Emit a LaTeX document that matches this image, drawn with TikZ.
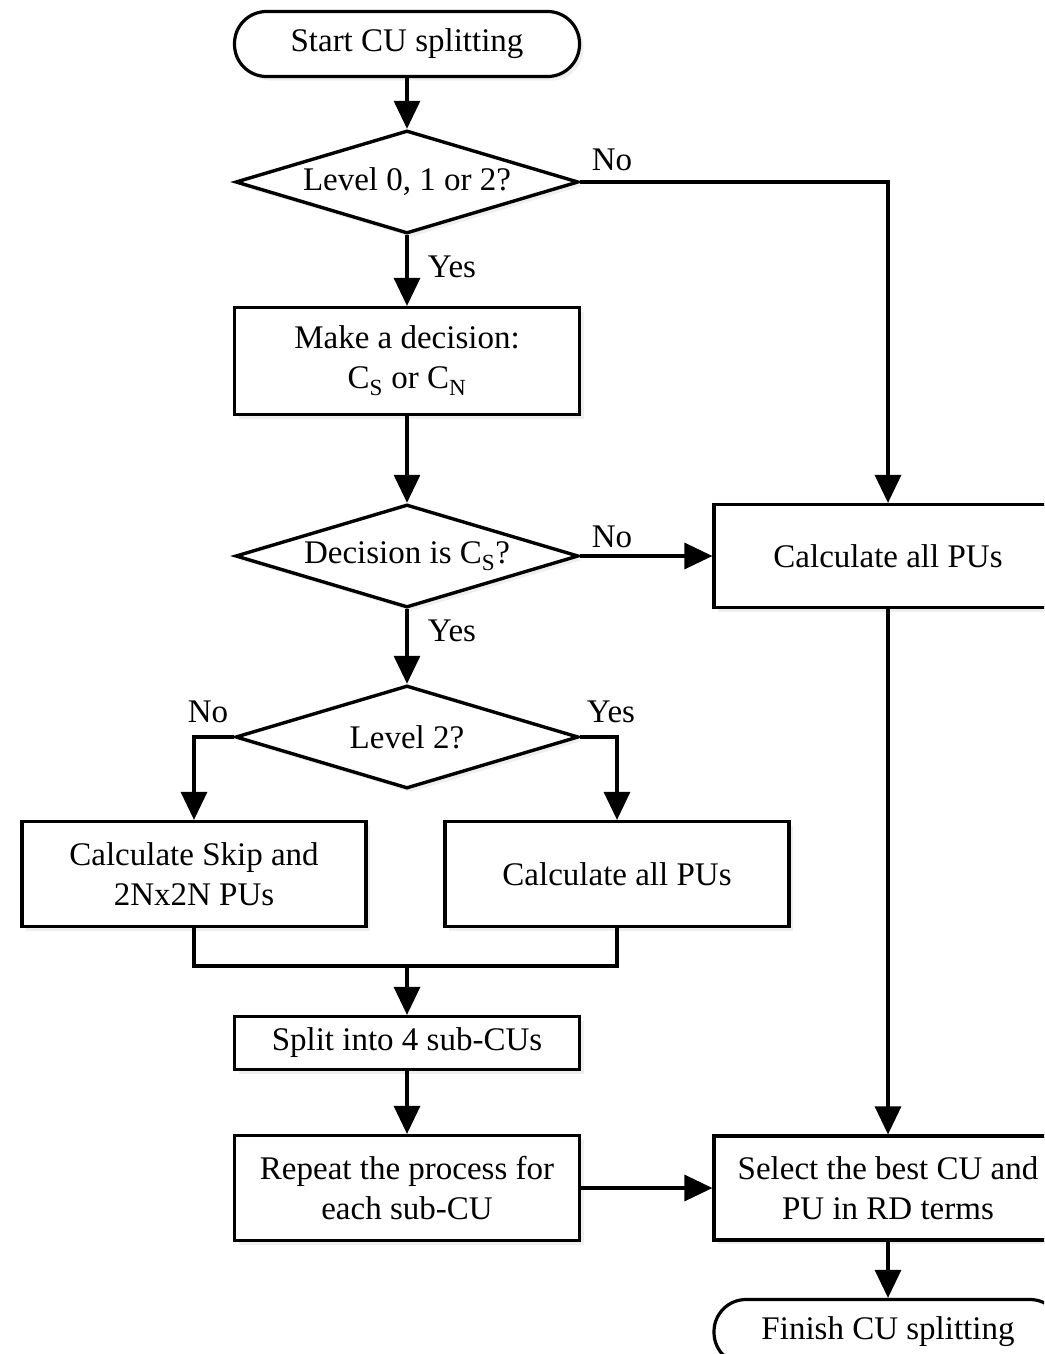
\documentclass[tikz,border=0pt]{standalone}
\usepackage{fontspec}
\setmainfont{Liberation Serif}
\usetikzlibrary{arrows.meta,shapes.geometric,shadows}
\begin{document}
\begin{tikzpicture}[x=1pt,y=-1pt,
  line width=3.2pt,
  every node/.style={font=\fontsize{33}{40}\selectfont, align=center},
  shadowed/.style={drop shadow={opacity=0.12, shadow xshift=4pt, shadow yshift=-4pt}},
  proc/.style={draw, line width=3.2pt, fill=white, rectangle, inner sep=0pt, shadowed},
  decide/.style={draw, line width=3.4pt, fill=white, diamond, aspect=3.3, inner sep=0pt, minimum width=343pt, minimum height=103pt, shadowed},
  termbox/.style={draw, line width=3.2pt, fill=white, rounded corners=32pt, inner sep=0pt, minimum height=65pt, shadowed},
  lbl/.style={inner sep=0pt},
  conn/.style={line width=3.2pt},
  arr/.style={conn, -{Triangle[length=28pt,width=26pt]}}
]
\path[use as bounding box, clip] (0,0) rectangle (1044,1354);
\fill[white] (0,0) rectangle (1044,1354);

% nodes
\node[termbox, minimum width=345pt] (start) at (407,44) {Start CU splitting};
\node[decide] (d1) at (407,182) {Level 0, 1 or 2?};
\node[proc, minimum width=345pt, minimum height=107pt] (make) at (407,361) {Make a decision:\\C\textsubscript{S} or C\textsubscript{N}};
\node[decide] (d2) at (407,556) {Decision is C\textsubscript{S}?};
\node[proc, minimum width=348pt, minimum height=103pt] (all1) at (888,556) {Calculate all PUs};
\node[decide] (d3) at (407,737) {Level 2?};
\node[proc, minimum width=344pt, minimum height=105pt] (skip) at (194,874) {Calculate Skip and\\2Nx2N PUs};
\node[proc, minimum width=344pt, minimum height=105pt] (all2) at (617,874) {Calculate all PUs};
\node[proc, minimum width=345pt, minimum height=53pt] (split) at (407,1043) {Split into 4 sub-CUs};
\node[proc, minimum width=345pt, minimum height=105pt] (rep) at (407,1188) {Repeat the process for\\each sub-CU};
\node[proc, minimum width=348pt, minimum height=104pt] (sel) at (888,1188) {Select the best CU and\\PU in RD terms};
\node[termbox, minimum width=348pt] (fin) at (888,1332) {Finish CU splitting};

% labels
\node[lbl] (l1) at (612,160) {No};
\node[lbl] (l2) at (452,267) {Yes};
\node[lbl] (l3) at (612,537) {No};
\node[lbl] (l4) at (452,631) {Yes};
\node[lbl] (l5) at (208,712) {No};
\node[lbl] (l6) at (611,712) {Yes};

% connectors
\draw[arr] (start) -- (d1);
\draw[arr] (d1.east) -- (d1.east -| all1.north) -- (all1.north);
\draw[arr] (d1) -- (make);
\draw[arr] (make) -- (d2);
\draw[arr] (d2.east) -- (all1.west);
\draw[arr] (d2) -- (d3);
\draw[arr] (d3.west) -| (skip.north);
\draw[arr] (d3.east) -| (all2.north);
\coordinate (m) at (407,966);
\draw[conn] (skip.south) |- (all2.south |- m) -- (all2.south);
\draw[arr] (m) -- (split.north);
\draw[arr] (split) -- (rep);
\draw[arr] (rep.east) -- (sel.west);
\draw[arr] (all1) -- (sel);
\draw[arr] (sel) -- (fin);
\end{tikzpicture}
\end{document}
